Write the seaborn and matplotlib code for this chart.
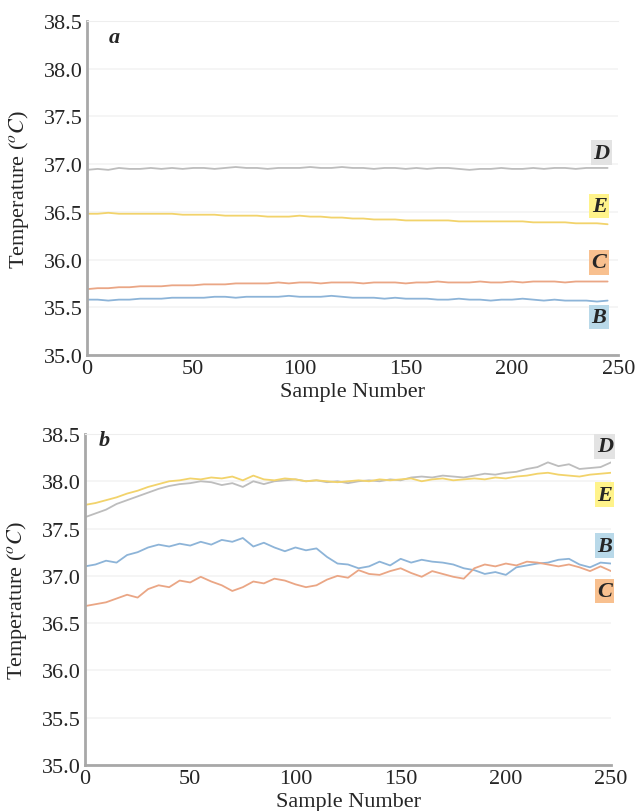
import numpy as np
import pandas as pd
import matplotlib.pyplot as plt
import seaborn as sns

# 데이터
top_samples = list(range(0, 250, 5))
top_B = [35.58, 35.58, 35.57, 35.58, 35.58, 35.59, 35.59, 35.59, 35.60, 35.60,
         35.60, 35.60, 35.61, 35.61, 35.60, 35.61, 35.61, 35.61, 35.61, 35.62,
         35.61, 35.61, 35.61, 35.62, 35.61, 35.60, 35.60, 35.60, 35.59, 35.60,
         35.59, 35.59, 35.59, 35.58, 35.58, 35.59, 35.58, 35.58, 35.57, 35.58,
         35.58, 35.59, 35.58, 35.57, 35.58, 35.57, 35.57, 35.57, 35.56, 35.57]
top_C = [35.69, 35.70, 35.70, 35.71, 35.71, 35.72, 35.72, 35.72, 35.73, 35.73,
         35.73, 35.74, 35.74, 35.74, 35.75, 35.75, 35.75, 35.75, 35.76, 35.75,
         35.76, 35.76, 35.75, 35.76, 35.76, 35.76, 35.75, 35.76, 35.76, 35.76,
         35.75, 35.76, 35.76, 35.77, 35.76, 35.76, 35.76, 35.77, 35.76, 35.76,
         35.77, 35.76, 35.77, 35.77, 35.77, 35.76, 35.77, 35.77, 35.77, 35.77]
top_D = [36.94, 36.95, 36.94, 36.96, 36.95, 36.95, 36.96, 36.95, 36.96, 36.95,
         36.96, 36.96, 36.95, 36.96, 36.97, 36.96, 36.96, 36.95, 36.96, 36.96,
         36.96, 36.97, 36.96, 36.96, 36.97, 36.96, 36.96, 36.95, 36.96, 36.96,
         36.95, 36.96, 36.95, 36.96, 36.96, 36.95, 36.94, 36.95, 36.95, 36.96,
         36.95, 36.95, 36.96, 36.95, 36.96, 36.96, 36.95, 36.96, 36.96, 36.96]
top_E = [36.48, 36.48, 36.49, 36.48, 36.48, 36.48, 36.48, 36.48, 36.48, 36.47,
         36.47, 36.47, 36.47, 36.46, 36.46, 36.46, 36.46, 36.45, 36.45, 36.45,
         36.46, 36.45, 36.45, 36.44, 36.44, 36.43, 36.43, 36.42, 36.42, 36.42,
         36.41, 36.41, 36.41, 36.41, 36.41, 36.40, 36.40, 36.40, 36.40, 36.40,
         36.40, 36.40, 36.39, 36.39, 36.39, 36.39, 36.38, 36.38, 36.38, 36.37]

bot_samples = list(range(0, 251, 5))
bot_B = [37.10, 37.12, 37.16, 37.14, 37.22, 37.25, 37.30, 37.33, 37.31, 37.34,
         37.32, 37.36, 37.33, 37.38, 37.36, 37.40, 37.31, 37.35, 37.30, 37.26,
         37.30, 37.27, 37.29, 37.20, 37.13, 37.12, 37.08, 37.10, 37.15, 37.11,
         37.18, 37.14, 37.17, 37.15, 37.14, 37.12, 37.08, 37.06, 37.02, 37.04,
         37.01, 37.09, 37.11, 37.13, 37.14, 37.17, 37.18, 37.12, 37.09, 37.14,
         37.13]
bot_C = [36.68, 36.70, 36.72, 36.76, 36.80, 36.77, 36.86, 36.90, 36.88, 36.95,
         36.93, 36.99, 36.94, 36.90, 36.84, 36.88, 36.94, 36.92, 36.97, 36.95,
         36.91, 36.88, 36.90, 36.96, 37.00, 36.98, 37.06, 37.02, 37.01, 37.05,
         37.08, 37.03, 36.99, 37.05, 37.02, 36.99, 36.97, 37.08, 37.12, 37.10,
         37.13, 37.11, 37.15, 37.14, 37.12, 37.10, 37.12, 37.09, 37.05, 37.10,
         37.05]
bot_D = [37.62, 37.66, 37.70, 37.76, 37.80, 37.84, 37.88, 37.92, 37.95, 37.97,
         37.98, 38.00, 37.99, 37.96, 37.98, 37.94, 38.00, 37.97, 38.00, 38.01,
         38.02, 38.00, 38.01, 37.99, 38.00, 37.98, 38.00, 38.01, 38.00, 38.02,
         38.01, 38.04, 38.05, 38.04, 38.06, 38.05, 38.04, 38.06, 38.08, 38.07,
         38.09, 38.10, 38.13, 38.15, 38.20, 38.16, 38.18, 38.13, 38.14, 38.15,
         38.20]
bot_E = [37.75, 37.77, 37.80, 37.83, 37.87, 37.90, 37.94, 37.97, 38.00, 38.01,
         38.03, 38.02, 38.04, 38.03, 38.05, 38.01, 38.06, 38.02, 38.01, 38.03,
         38.02, 38.00, 38.01, 38.00, 37.99, 38.00, 38.01, 38.00, 38.02, 38.01,
         38.02, 38.03, 38.00, 38.02, 38.03, 38.01, 38.02, 38.03, 38.02, 38.04,
         38.03, 38.05, 38.06, 38.08, 38.09, 38.07, 38.06, 38.05, 38.07, 38.08,
         38.09]

series_names = ['B', 'C', 'D', 'E']
line_colors = {'B': '#8db4d8', 'C': '#eaa685', 'D': '#bdbdbd', 'E': '#f2d36b'}
box_colors = {'B': '#b9d9e9', 'C': '#f8c08f', 'D': '#e3e3e3', 'E': '#fff38a'}


def to_long(samples, values):
    frames = []
    for name, vals in zip(series_names, values):
        frames.append(pd.DataFrame({'sample': samples, 'temp': vals, 'series': name}))
    return pd.concat(frames, ignore_index=True)


df_top = to_long(top_samples, [top_B, top_C, top_D, top_E])
df_bot = to_long(bot_samples, [bot_B, bot_C, bot_D, bot_E])

sns.set_style('white')
plt.rcParams['font.family'] = ['Liberation Serif', 'DejaVu Serif']
plt.rcParams['mathtext.fontset'] = 'stix'

fig = plt.figure(figsize=(6.4, 8.12), dpi=100)
ax1 = fig.add_axes([0.136, 0.5616, 0.830, 0.4113])
ax2 = fig.add_axes([0.1328, 0.0567, 0.822, 0.4076])

yticks = [35.0, 35.5, 36.0, 36.5, 37.0, 37.5, 38.0, 38.5]


def style_axis(ax, letter, letter_xy, labels):
    ax.set_xlim(0, 250)
    ax.set_ylim(35.0, 38.5)
    ax.set_yticks(yticks)
    ax.set_yticklabels([f'{t:.1f}' for t in yticks], fontfamily='Liberation Serif')
    ax.set_xticks([0, 50, 100, 150, 200, 250])
    ax.set_xticklabels(['0', '50', '100', '150', '200', '250'], fontfamily='Liberation Serif')
    ax.tick_params(axis='both', labelsize=16, length=0)
    ax.tick_params(axis='x', pad=3)
    ax.tick_params(axis='y', pad=3)
    ax.grid(axis='y', color='#f3f3f3', linewidth=1.2)
    ax.set_axisbelow(True)
    for side in ['left', 'bottom']:
        ax.spines[side].set_color('#a8a8a8')
        ax.spines[side].set_linewidth(2)
    ax.spines['top'].set_color('#eeeeee')
    ax.spines['right'].set_visible(False)
    ax.set_xlabel('Sample Number', fontsize=16, labelpad=3)
    ax.set_ylabel(r'Temperature ($^{o}C$)', fontsize=16, labelpad=9)
    ax.text(letter_xy[0], letter_xy[1], letter, fontsize=16, fontweight='bold',
            fontstyle='italic', ha='center', va='center')
    for name, (x, y) in labels.items():
        ax.text(x, y, name, fontsize=16, fontweight='bold', fontstyle='italic',
                ha='center', va='center',
                bbox=dict(boxstyle='square,pad=0.1', facecolor=box_colors[name],
                          edgecolor='none'))


sns.lineplot(data=df_top, x='sample', y='temp', hue='series', palette=line_colors,
             linewidth=1.3, ax=ax1, legend=False)
sns.lineplot(data=df_bot, x='sample', y='temp', hue='series', palette=line_colors,
             linewidth=1.3, ax=ax2, legend=False)

style_axis(ax1, 'a', (13, 38.33),
           {'D': (242, 37.12), 'E': (241, 36.56), 'C': (241, 35.97), 'B': (241, 35.40)})
style_axis(ax2, 'b', (9, 38.44),
           {'D': (247, 38.37), 'E': (247, 37.86), 'B': (247, 37.32), 'C': (247, 36.84)})

fig.savefig('out.png', dpi=100)
